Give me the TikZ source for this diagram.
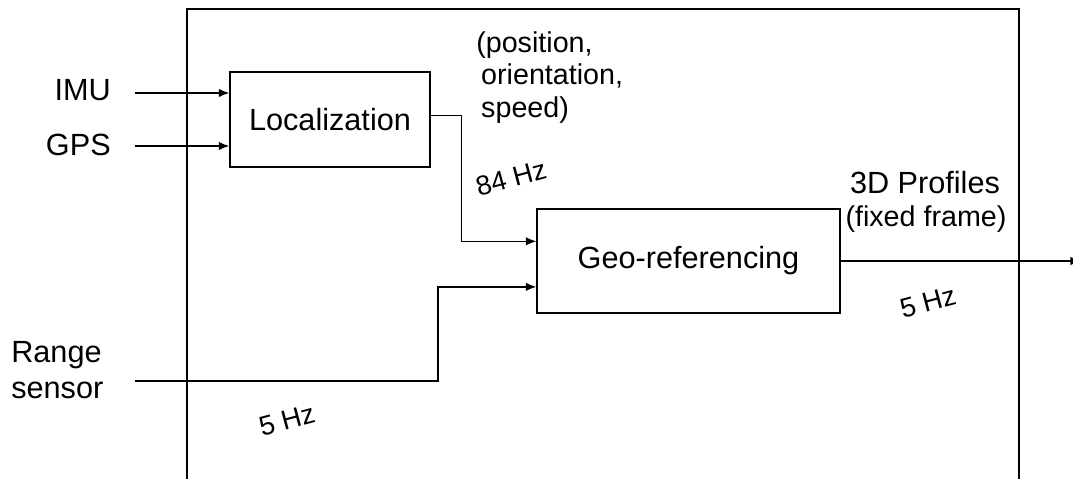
\documentclass[tikz,border=0pt]{standalone}
\usepackage{fontspec}
\setmainfont{Liberation Sans}
\usetikzlibrary{arrows.meta}
\tikzset{
  blk/.style={draw, line width=0.9pt, inner sep=0pt, font=\fontsize{21.8}{26}\selectfont},
  lbl/.style={inner sep=0pt, font=\fontsize{21.8}{26}\selectfont},
  note/.style={inner sep=0pt, font=\fontsize{20.4}{23.4}\selectfont},
  rate/.style={inner sep=0pt, rotate=15, font=\fontsize{19.5}{22}\selectfont},
  arr/.style={line width=0.9pt, -{Latex[length=7.5pt,width=6pt]}}
}
\begin{document}
\begin{tikzpicture}[x=0.025cm,y=-0.025cm]
\clip (0,0) rectangle (1073,479);

% outer frame, open at the bottom
\draw[line width=1.8pt] (187,500) -- (187,9) -- (1019,9) -- (1019,500);

\node[blk, minimum width=5cm, minimum height=2.375cm] (loc) at (330,119.5) {Localization};
\node[blk, minimum width=7.575cm, minimum height=2.6cm] (geo) at (688.5,261) {Geo-referencing};

\node[lbl, anchor=east] (imu) at (111,90) {IMU};
\node[lbl, anchor=east] (gps) at (111,145) {GPS};
\node[lbl, anchor=west, align=left] (range) at (11,370) {Range\\sensor};

\coordinate (imuin) at (135,93);
\coordinate (gpsin) at (135,146);
\coordinate (rangein) at (135,381);
\coordinate (out) at (1081,261);

\draw[arr] (imuin) -- (imuin -| loc.west);
\draw[arr] (gpsin) -- (gpsin -| loc.west);
\draw[arr] ([yshift=3pt]loc.east) -- ++(31,0) |- ([yshift=14pt]geo.west);
\draw[arr] (rangein) -- (438,381) |- ([yshift=-18.4pt]geo.west);
\draw[arr] (geo.east) -- (out);

\node[note, anchor=north west, align=left] (state) at (476,31)
  {(position,\\\hspace{3.5pt}orientation,\\\hspace{3.5pt}speed)};
\node[lbl] (prof) at (925,183) {3D Profiles};
\node[note] (frame) at (926,219) {(fixed frame)};

\node[rate] (hzloc) at (511,178) {84 Hz};
\node[rate] (hzout) at (928,302) {5 Hz};
\node[rate] (hzrange) at (287,420) {5 Hz};
\end{tikzpicture}
\end{document}
